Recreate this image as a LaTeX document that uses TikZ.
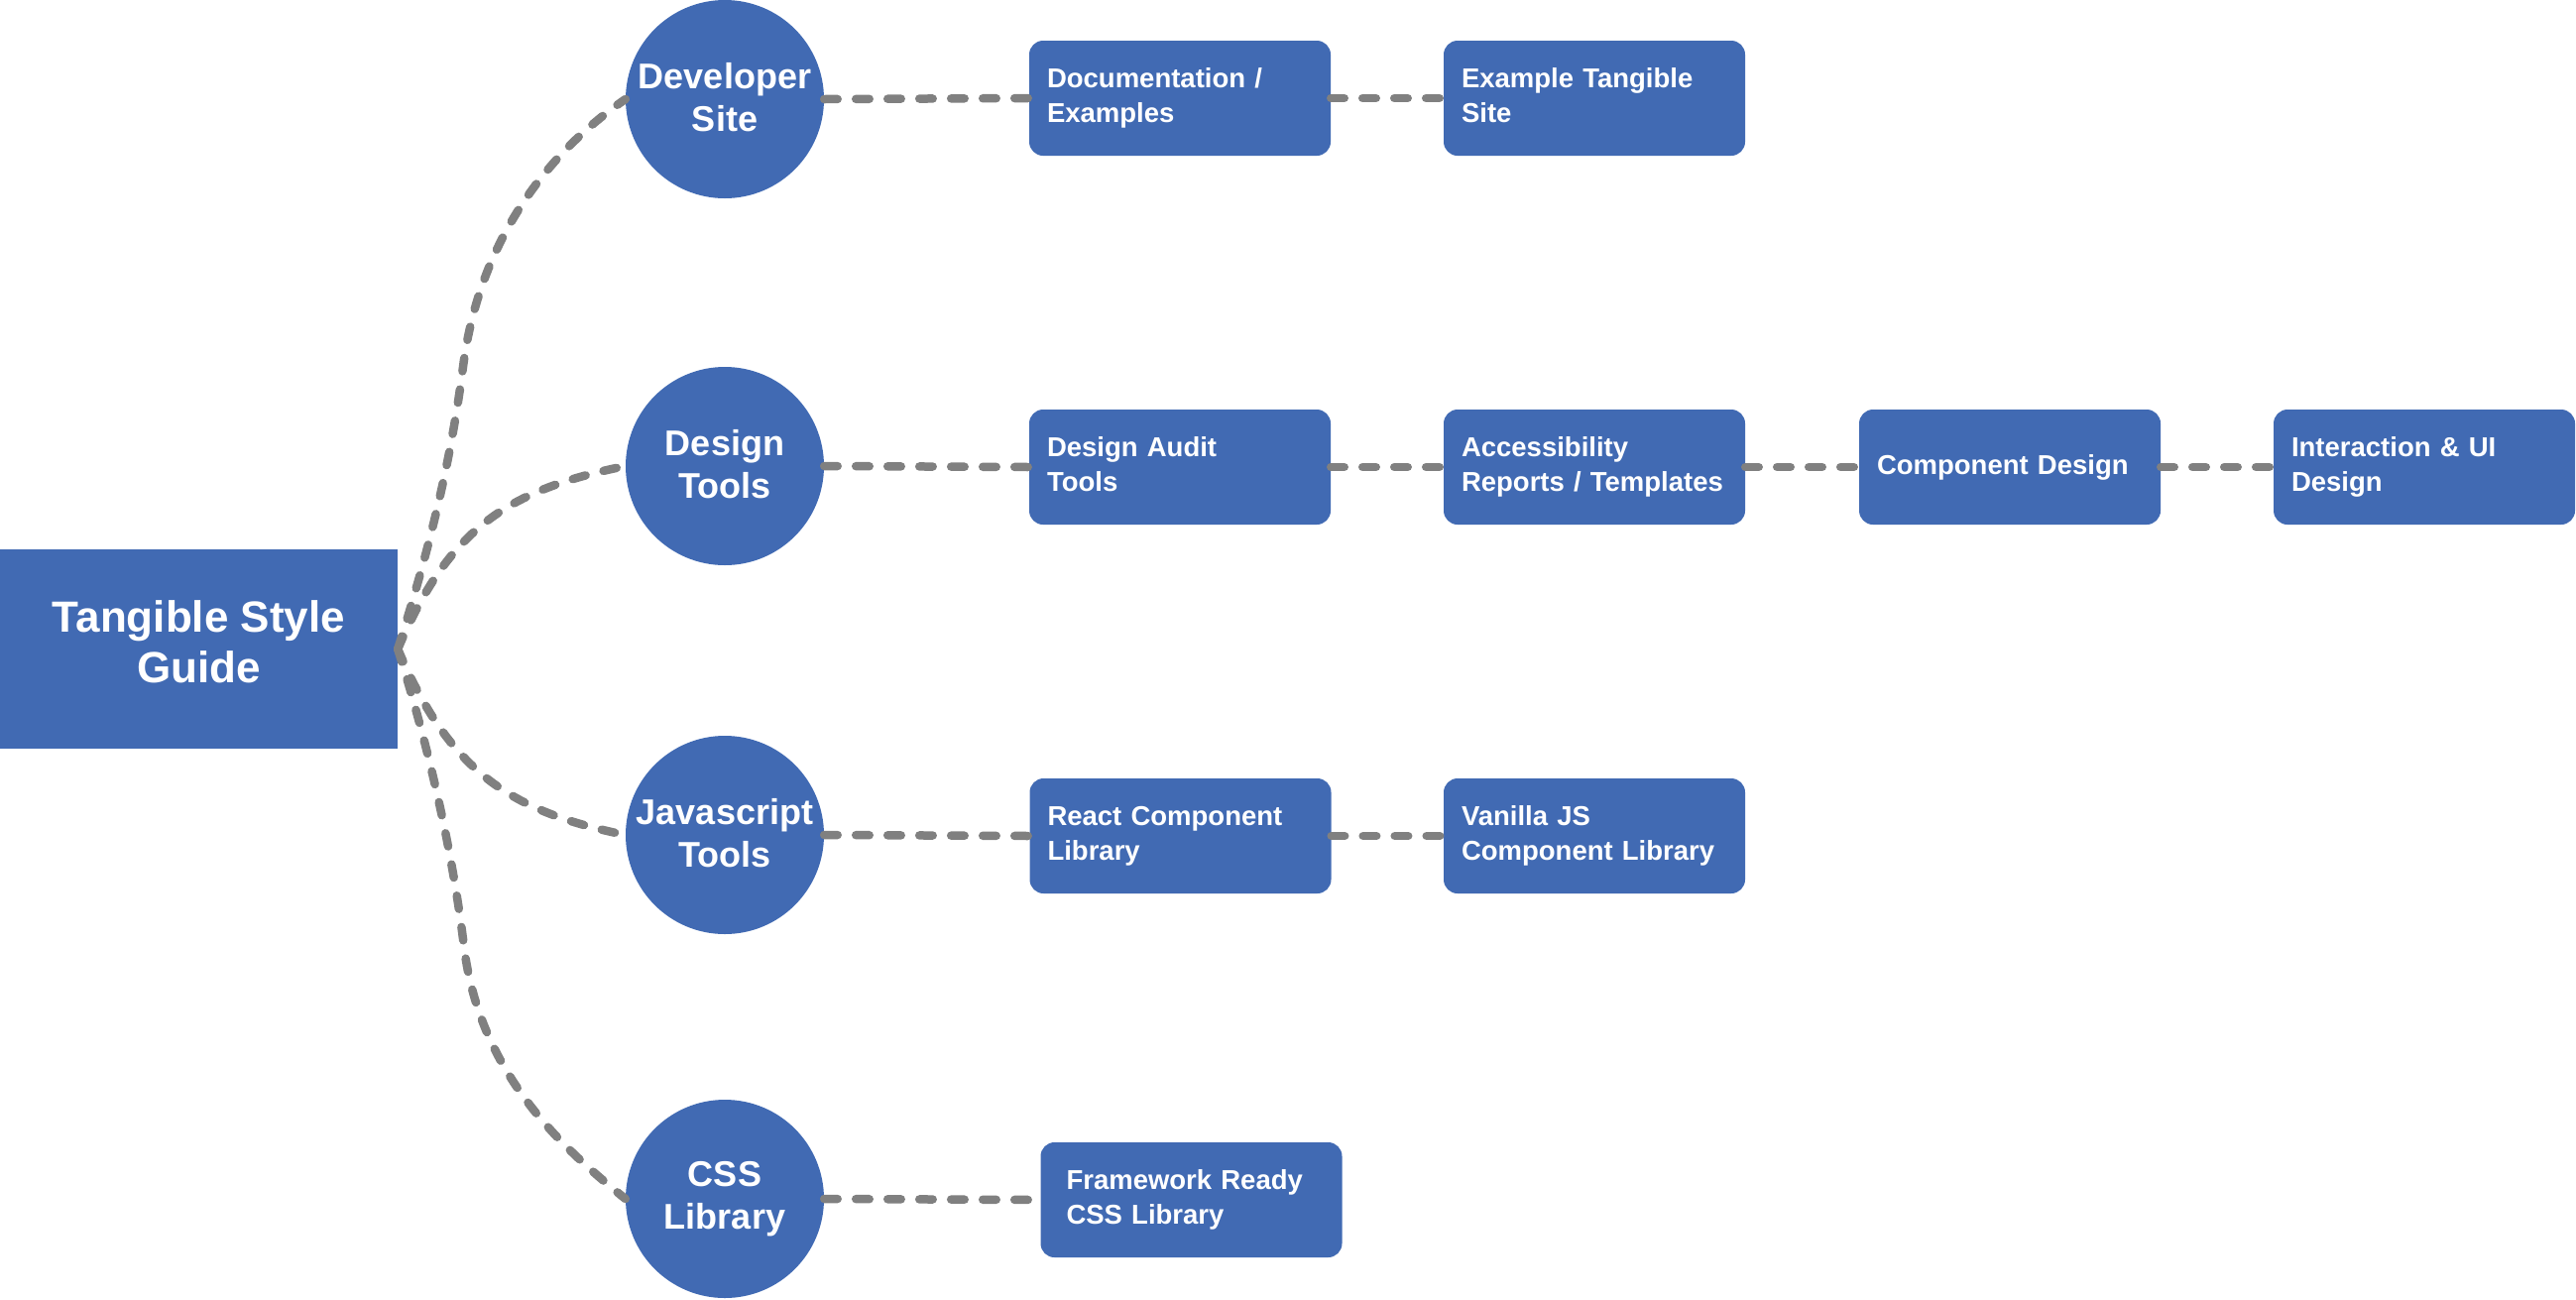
\documentclass[tikz,border=0pt]{standalone}
\usepackage{fontspec}
\setmainfont{Liberation Sans}
\definecolor{boxblue}{RGB}{65,106,179}
\definecolor{conngray}{RGB}{128,128,128}
\begin{document}
\begin{tikzpicture}[x=1pt,y=-1pt,
  mainbox/.style={rectangle, fill=boxblue, minimum width=401pt, minimum height=201pt, inner sep=0pt, text=white, font=\fontsize{44}{51}\selectfont\bfseries, align=center,
    execute at begin node={\rule{0pt}{44pt}}, execute at end node={\rule[-14pt]{0pt}{14pt}}},
  hub/.style={circle, fill=boxblue, minimum size=200pt, inner sep=0pt, text=white, font=\fontsize{36}{43}\selectfont\bfseries, align=center,
    execute at begin node={\rule{0pt}{36pt}}, execute at end node={\rule[-4pt]{0pt}{4pt}}},
  leaf/.style={rectangle, rounded corners=14pt, fill=boxblue, minimum height=116pt, inner xsep=18pt, inner ysep=0pt, text width=268pt, align=left, text=white, font=\fontsize{27.5}{35}\selectfont\bfseries,
    execute at begin node={\rule{0pt}{24pt}}, execute at end node={\rule[-10pt]{0pt}{10pt}}},
  conn/.style={draw=conngray, line width=8.5pt, line cap=round, dash pattern=on 13.5pt off 18.5pt}]
\useasboundingbox (0,0) rectangle (2598,1310);

% root
\node[mainbox] (main) at (200.5,654.5) {Tangible Style\\Guide};

% hubs
\node[hub] (dev) at (731,100) {Developer\\Site};
\node[hub] (dt)  at (731,470) {Design\\Tools};
\node[hub] (js)  at (731,842) {Javascript\\Tools};
\node[hub] (css) at (731,1209) {CSS\\Library};

% leaves
\node[leaf] (doc)  at (1190,99)  {Documentation /\\Examples};
\node[leaf] (ex)   at (1608,99)  {Example Tangible\\Site};
\node[leaf] (aud)  at (1190,471) {Design Audit\\Tools};
\node[leaf] (acc)  at (1608,471) {Accessibility\\Reports / Templates};
\node[leaf] (comp) at (2027,471) {Component Design};
\node[leaf] (ui)   at (2445,471) {Interaction \& UI\\Design};
\node[leaf] (react) at (1190.5,843) {React Component\\Library};
\node[leaf] (van)  at (1608,843) {Vanilla JS\\Component Library};
\node[leaf, inner xsep=26pt, text width=252pt] (fw) at (1201.5,1210) {Framework Ready\\CSS Library};

% helper points of the long curves
\coordinate (devmid) at (467,370);
\coordinate (cssmid) at (468,955);

% curved connectors
\draw[conn] (main.east) .. controls (432,557) and (454,470) .. (devmid)
            .. controls (485,230) and (565,145) .. (dev.west);
\draw[conn] (main.east) .. controls (453,532) and (513,494) .. (dt.west);
\draw[conn] (main.east) .. controls (453,777) and (513,818) .. (js.west);
\draw[conn] (main.east) .. controls (432,752) and (456,856) .. (cssmid)
            .. controls (484,1084) and (569,1159) .. (css.west);

% straight connectors
\draw[conn] (dev.east) -- (doc.west);
\draw[conn] (doc.east) -- (ex.west);
\draw[conn] (dt.east) -- (aud.west);
\draw[conn] (aud.east) -- (acc.west);
\draw[conn] (acc.east) -- (comp.west);
\draw[conn] (comp.east) -- (ui.west);
\draw[conn] (js.east) -- (react.west);
\draw[conn] (react.east) -- (van.west);
\draw[conn] (css.east) -- (fw.west);
\end{tikzpicture}
\end{document}
